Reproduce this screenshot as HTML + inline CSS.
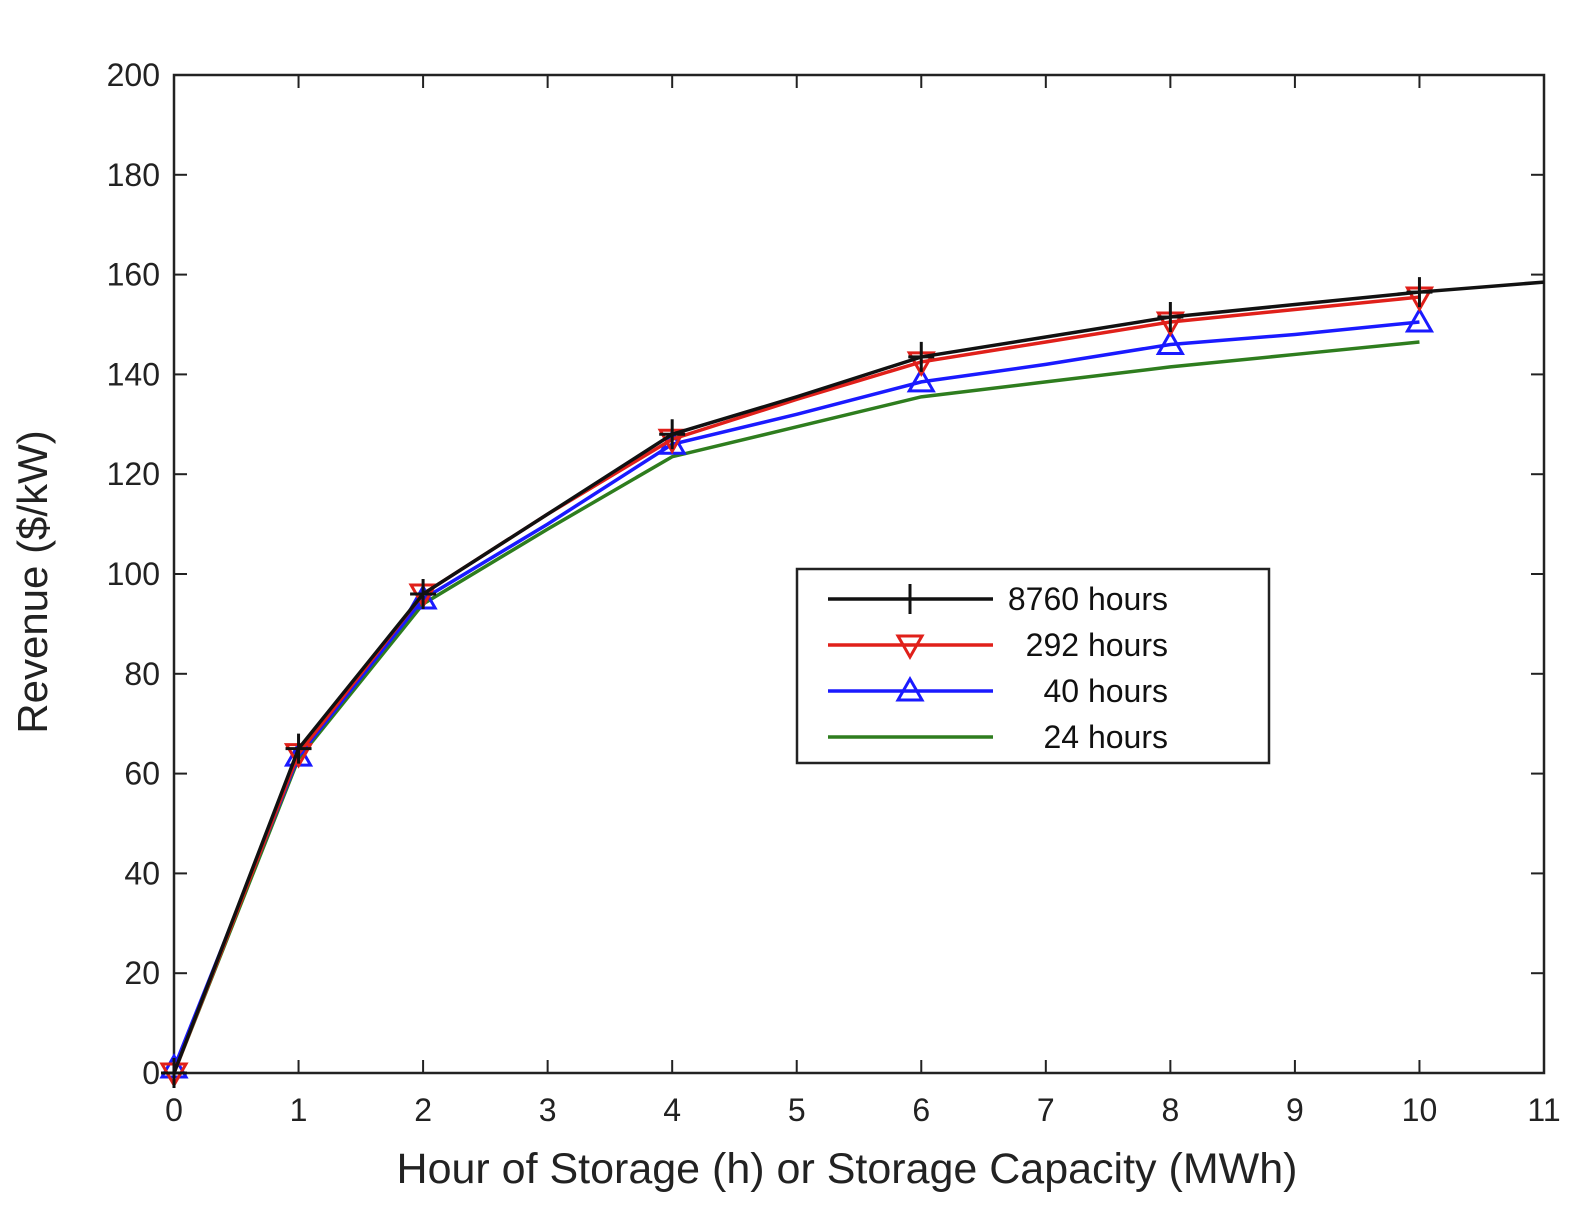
<!DOCTYPE html>
<html><head><meta charset="utf-8"><style>
body{margin:0;background:#fff}
svg{display:block;font-family:"Liberation Sans",sans-serif}
</style></head><body>
<svg id="chart" width="1594" height="1219"></svg>
<script>
const xs=[0,1,2,3,4,5,6,7,8,9,10,11];
const black=[0,65,96,112,128,135.5,143.5,147.5,151.5,154,156.5,158.5];
const red=[0,64,96,112,127,135,142.5,146.5,150.5,153,155.5];
const blue=[1,63.5,95,110,126,132,138.5,142,146,148,150.5];
const green=[0,63,94,109,123.5,129.5,135.5,138.5,141.5,144,146.5];
const markerX=[0,1,2,4,6,8,10];
const xTicks=[0,1,2,3,4,5,6,7,8,9,10,11];
const yTicks=[0,20,40,60,80,100,120,140,160,180,200];
const L=174,R=1544,T=75,B=1073;
const X=v=>L+(R-L)*v/11, Y=v=>B-(B-T)*v/200;
const svg=document.getElementById('chart');
const NS='http://www.w3.org/2000/svg';
function el(t,a,p){const e=document.createElementNS(NS,t);for(const k in a)e.setAttribute(k,a[k]);(p||svg).appendChild(e);return e;}
const ax=el('g',{});


el('rect',{x:L,y:T,width:R-L,height:B-T,fill:'none',stroke:'#222','stroke-width':2.5},ax);
xTicks.forEach(v=>{const x=X(v);
 el('line',{x1:x,x2:x,y1:B,y2:B-13,stroke:'#222','stroke-width':2},ax);
 el('line',{x1:x,x2:x,y1:T,y2:T+13,stroke:'#222','stroke-width':2},ax);
 const t=el('text',{x:x,y:B+48,'font-size':32,'text-anchor':'middle',fill:'#222'},ax);t.textContent=v;
 
 });
yTicks.forEach(v=>{const y=Y(v);
 el('line',{x1:L,x2:L+13,y1:y,y2:y,stroke:'#222','stroke-width':2},ax);
 el('line',{x1:R,x2:R-13,y1:y,y2:y,stroke:'#222','stroke-width':2},ax);
 const t=el('text',{x:L-14,y:y+11,'font-size':32,'text-anchor':'end',fill:'#222'},ax);t.textContent=v;
 
 });
let t=el('text',{x:(L+R)/2-12,y:1183,'font-size':43,'text-anchor':'middle',fill:'#222'});t.textContent='Hour of Storage (h) or Storage Capacity (MWh)';


t=el('text',{x:0,y:0,'font-size':42,'text-anchor':'middle',fill:'#222',transform:`translate(47,${(T+B)/2+8}) rotate(-90)`});t.textContent='Revenue ($/kW)';


function mark(type,x,y,c,g){
 if(type==='plus'){el('path',{d:`M${x-13},${y}H${x+13}M${x},${y-15}V${y+15}`,stroke:c,'stroke-width':3,fill:'none'},g);}
 else if(type==='down'){el('path',{d:`M${x-12},${y-9}H${x+12}L${x},${y+12}Z`,stroke:c,'stroke-width':3,fill:'none'},g);}
 else if(type==='up'){el('path',{d:`M${x-12},${y+9}H${x+12}L${x},${y-12}Z`,stroke:c,'stroke-width':3,fill:'none'},g);}
}
function series(name,data,c,m){
 const g=el('g',{});
 
 
 el('polyline',{points:data.map((v,i)=>X(xs[i])+','+Y(v)).join(' '),fill:'none',stroke:c,'stroke-width':3.5},g);
 if(m)markerX.forEach(xv=>{if(xv<data.length)mark(m,X(xv),Y(data[xv]),c,g);});
}
series('series-24-hours',green,'#2e7d1e',null);
series('series-40-hours',blue,'#1a1aff','up');
series('series-292-hours',red,'#e0201a','down');
series('series-8760-hours',black,'#111','plus');
const lg=el('g',{});


el('rect',{x:797,y:569,width:472,height:194,fill:'#fff',stroke:'#222','stroke-width':2.5},lg);
const names=['8760 hours','292 hours','40 hours','24 hours'],cols=['#111','#e0201a','#1a1aff','#2e7d1e'],ms=['plus','down','up',null];
names.forEach((n,i)=>{const y=599+i*46;
 el('line',{x1:828,x2:993,y1:y,y2:y,stroke:cols[i],'stroke-width':3.5},lg);
 if(ms[i])mark(ms[i],910,y,cols[i],lg);
 const tt=el('text',{x:1168,y:y+11,'font-size':32,'text-anchor':'end',fill:'#111'},lg);tt.textContent=n;
 
 });
</script>
</body></html>
